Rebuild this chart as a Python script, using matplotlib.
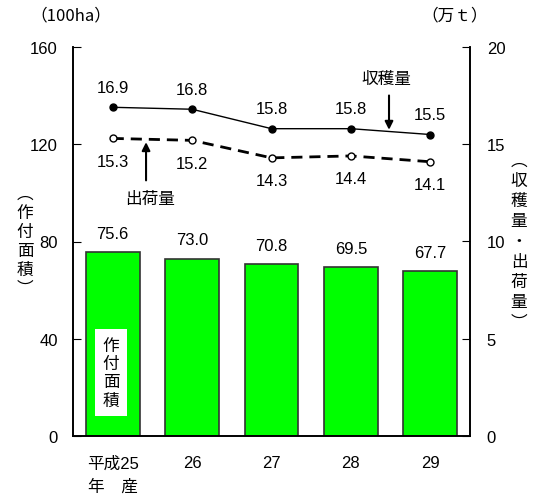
import matplotlib
matplotlib.use("Agg")
import matplotlib.pyplot as plt

plt.rcParams['font.family'] = ['Liberation Sans', 'Noto Sans CJK JP', 'DejaVu Sans']

# data
years = ['平成25\n年　産', '26', '27', '28', '29']
area = [75.6, 73.0, 70.8, 69.5, 67.7]          # 作付面積 (100ha)
harvest = [16.9, 16.8, 15.8, 15.8, 15.5]        # 収穫量 (万t)
shipped = [15.3, 15.2, 14.3, 14.4, 14.1]        # 出荷量 (万t)

W, H = 539, 502
fig = plt.figure(figsize=(W / 100, H / 100), dpi=100)
ax = fig.add_axes([73 / W, 1 - 437 / H, (470 - 73) / W, (437 - 48) / H])
ax2 = ax.twinx()

x = list(range(len(years)))
ax.bar(x, area, width=0.68, color='#00ff00', edgecolor='#333333', linewidth=1.2, zorder=2)
for xi, v in zip(x, area):
    ax.annotate(f'{v:.1f}', (xi, v), xytext=(0, 8), textcoords='offset points',
                ha='center', va='bottom', fontsize=12)

ax.set_xlim(-0.5, len(years) - 0.5)
ax.set_ylim(0, 160)
ax.set_yticks([0, 40, 80, 120, 160])
ax.set_xticks(x)
ax.set_xticklabels(years, fontsize=12, linespacing=1.6)
ax.tick_params(axis='x', length=0, pad=14)
ax.tick_params(axis='y', direction='in', length=6, labelsize=12, pad=11)

ax2.set_ylim(0, 20)
ax2.set_yticks([0, 5, 10, 15, 20])
ax2.tick_params(axis='y', direction='in', length=6, labelsize=12, pad=12)

for a in (ax, ax2):
    a.spines['top'].set_visible(False)
    for s in a.spines.values():
        s.set_linewidth(1.2)

ax2.plot(x, harvest, color='black', linewidth=1.0, marker='o', markersize=5,
         markerfacecolor='black', zorder=3)
ax2.plot(x, shipped, color='black', linewidth=2.0, linestyle=(0, (4, 2.5)), marker='o',
         markersize=5, markerfacecolor='white', markeredgewidth=1.0, zorder=3)
for xi, v in zip(x, harvest):
    ax2.annotate(f'{v:.1f}', (xi, v), xytext=(0, 9), textcoords='offset points',
                 ha='center', va='bottom', fontsize=12)
for xi, v in zip(x, shipped):
    ax2.annotate(f'{v:.1f}', (xi, v), xytext=(0, -11), textcoords='offset points',
                 ha='center', va='top', fontsize=12)

# callouts
ax2.annotate('', xy=(0.42, 15.25), xytext=(0.42, 13.0),
             arrowprops=dict(arrowstyle='-|>', color='black', lw=1.5, mutation_scale=12))
ax2.text(0.47, 12.2, '出荷量', ha='center', va='center', fontsize=12, family='Noto Sans CJK JP')
ax2.annotate('', xy=(3.48, 15.6), xytext=(3.48, 17.65),
             arrowprops=dict(arrowstyle='-|>', color='black', lw=1.5, mutation_scale=12))
ax2.text(3.45, 18.4, '収穫量', ha='center', va='center', fontsize=12, family='Noto Sans CJK JP')

# label box inside first bar
ax.text(-0.02, 26, '作\n付\n面\n積', ha='center', va='center', fontsize=12, linespacing=1.1,
        family='Noto Sans CJK JP', zorder=4,
        bbox=dict(boxstyle='square,pad=0.45', facecolor='white', edgecolor='none'))

# axis titles
fig.text(71 / W, 1 - 16 / H, '（100ha）', ha='center', va='center', fontsize=12,
         family=['Noto Sans CJK JP'])
fig.text(455 / W, 1 - 16 / H, '（万ｔ）', ha='center', va='center', fontsize=12,
         family='Noto Sans CJK JP')
fig.text(25 / W, 1 - 242 / H, '︵\n作\n付\n面\n積\n︶', ha='center', va='center', fontsize=12,
         linespacing=1.15, family='Noto Sans CJK JP')
fig.text(519 / W, 1 - 242 / H, '︵\n収\n穫\n量\n・\n出\n荷\n量\n︶', ha='center', va='center',
         fontsize=12, linespacing=1.25, family='Noto Sans CJK JP')

fig.savefig('out.png', dpi=100)
